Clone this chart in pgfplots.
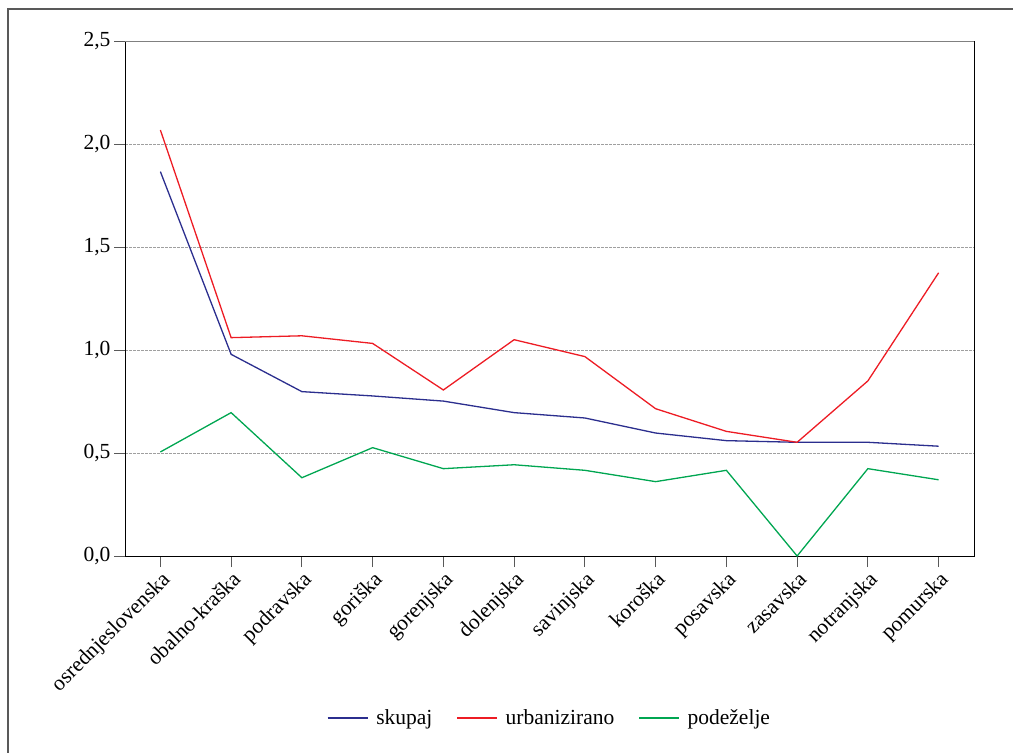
\documentclass[border=0pt]{standalone}
\usepackage{fontspec}
\setmainfont{Liberation Serif}
\usepackage{pgfplots}
\pgfplotsset{compat=1.18}

\definecolor{cblue}{RGB}{43,46,142}
\definecolor{cred}{RGB}{237,28,36}
\definecolor{cgreen}{RGB}{0,166,81}

\begin{document}
\begin{tikzpicture}
\draw[gray!70!black, line width=1.2pt] (8pt,-760pt) -- (8pt,-9pt) -- (1020pt,-9pt);
\begin{axis}[
  scale only axis,
  width=849pt, height=515pt,
  at={(125pt,-556pt)}, anchor=south west,
  font=\fontsize{21.5}{25}\selectfont,
  xmin=-0.5, xmax=11.5,
  ymin=0, ymax=2.5,
  xtick={0,...,11},
  xticklabels={osrednjeslovenska,obalno-kraška,podravska,goriška,gorenjska,dolenjska,savinjska,koroška,posavska,zasavska,notranjska,pomurska},
  xticklabel style={rotate=45, anchor=north east, inner sep=2pt},
  ytick={0,0.5,...,2.5},
  yticklabel style={/pgf/number format/.cd, fixed, fixed zerofill, precision=1, use comma, assume math mode=true},
  ymajorgrids,
  grid style={gray!75, line width=1pt, dash pattern=on 3pt off 1pt},
  axis line style={black, line width=1pt},
  tick style={gray!70!black, line width=1pt},
  tick align=outside,
  major tick length=11pt,
  xtick pos=bottom, ytick pos=left,
  legend columns=3,
  legend style={draw=none, at={(0.5,-0.3146)}, anchor=center,
    /tikz/every odd column/.append style={column sep=6pt},
    /tikz/every even column/.append style={column sep=22pt}},
  legend image code/.code={\draw[#1] (0pt,0pt) -- (40pt,0pt);},
  every axis plot/.append style={line width=1.3pt, mark=none},
]
\addplot[cblue] coordinates {
  (0,1.866) (1,0.979) (2,0.798) (3,0.777) (4,0.752) (5,0.696)
  (6,0.670) (7,0.597) (8,0.560) (9,0.552) (10,0.552) (11,0.533)};
\addlegendentry{skupaj}
\addplot[cred] coordinates {
  (0,2.068) (1,1.060) (2,1.069) (3,1.032) (4,0.806) (5,1.050)
  (6,0.968) (7,0.715) (8,0.605) (9,0.552) (10,0.850) (11,1.375)};
\addlegendentry{urbanizirano}
\addplot[cgreen] coordinates {
  (0,0.505) (1,0.696) (2,0.380) (3,0.526) (4,0.424) (5,0.443)
  (6,0.416) (7,0.361) (8,0.416) (9,0.000) (10,0.424) (11,0.370)};
\addlegendentry{podeželje}
\draw[gray, line width=1.3pt] (rel axis cs:0,1) -- (rel axis cs:1,1);
\end{axis}
\pgfresetboundingbox
\path (0pt,0pt) rectangle (1013pt,-753pt);
\end{tikzpicture}
\end{document}
